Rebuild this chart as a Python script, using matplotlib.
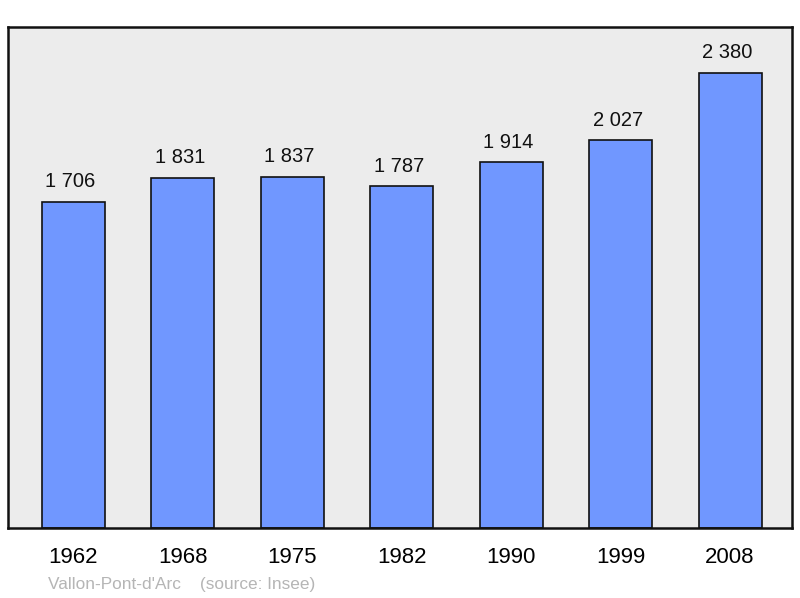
import matplotlib
matplotlib.use("Agg")
import matplotlib.pyplot as plt

plt.rcParams["font.family"] = ["Liberation Sans", "DejaVu Sans"]

years = ["1962", "1968", "1975", "1982", "1990", "1999", "2008"]
population = [1706, 1831, 1837, 1787, 1914, 2027, 2380]
value_labels = ["1 706", "1 831", "1 837", "1 787", "1 914", "2 027", "2 380"]

fig = plt.figure(figsize=(8, 5.98), dpi=100)
ax = fig.add_axes([0.01, 0.117, 0.98, 0.838])
ax.set_facecolor("#ececec")

x = range(len(years))
bars = ax.bar(x, population, width=0.575, color="#7097ff",
              edgecolor="#111111", linewidth=1.2)

# value labels above each bar
for bar, lab in zip(bars, value_labels):
    ax.annotate(lab, (bar.get_x() + bar.get_width() / 2, bar.get_height()),
                xytext=(-2, 7.5), textcoords="offset points",
                ha="center", va="bottom", fontsize=14.5, color="#111111")

ax.set_xlim(-0.594, 6.566)
ax.set_ylim(0, 2620)
ax.set_yticks([])
ax.set_xticks(list(x))
ax.set_xticklabels(years, fontsize=16)
ax.tick_params(axis="x", length=0, pad=14)
for spine in ax.spines.values():
    spine.set_linewidth(1.8)
    spine.set_color("#111111")

fig.text(48 / 800, 1 - 584 / 598, "Vallon-Pont-d'Arc    (source: Insee)",
         fontsize=12.4, color="#b5b5b5", ha="left", va="center")

fig.savefig("out.png", dpi=100)
